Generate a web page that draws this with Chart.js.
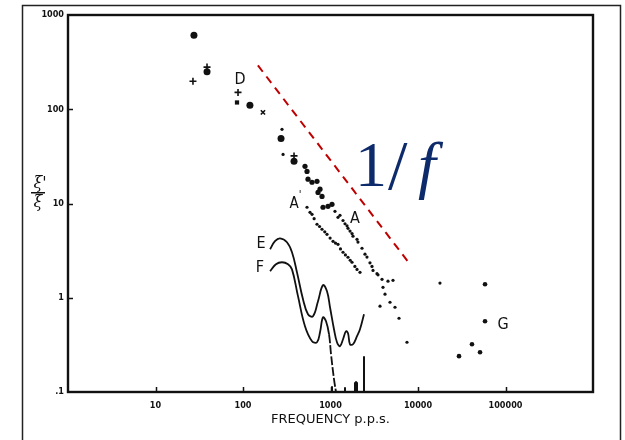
<!DOCTYPE html>
<html>
<head>
<meta charset="utf-8">
<script src="https://cdn.jsdelivr.net/npm/chart.js@4/dist/chart.umd.min.js"></script>
<style>
  html, body { margin: 0; padding: 0; background: #fff; }
</style>
</head>
<body>
<canvas id="noiseChart" width="625" height="440"></canvas>
<script>
// axis ticks
const xTicks = [10, 100, 1000, 10000, 100000];
const yTicks = [0.1, 1, 10, 100, 1000];
const yTickLabels = [".1", "1", "10", "100", "1000"];

// curve D (assorted markers)
const dCircleX = [27.5, 38.8, 120, 272, 383];
const dCircleY = [610, 250, 110, 49, 28];
const dPlusX = [26.8, 38.8, 87.7, 383];
const dPlusY = [198, 280, 151, 32];
const dSquareX = [85.4];
const dSquareY = [118];
const dCrossX = [169];
const dCrossY = [92.7];

// dense start of the A bands
const clusterX = [511, 539, 553, 615, 701, 720, 759, 800, 821, 936, 1040];
const clusterY = [24.8, 21.9, 18.1, 16.8, 17.2, 13.1, 14.2, 11.9, 9.12, 9.34, 9.81];

// curve A
const bandAX = [279, 287, 1125, 1218, 1284, 1390, 1465, 1545, 1585, 1671, 1762, 1807, 2009, 2061, 2291, 2478, 2612, 2826, 2979, 3061, 3398, 3491, 3880, 4540, 5180];
const bandAY = [61.2, 33.2, 8.27, 7.14, 7.5, 6.6, 6.1, 5.8, 5.45, 5.1, 4.8, 4.5, 4.17, 3.9, 3.35, 2.9, 2.7, 2.35, 2.15, 1.95, 1.8, 1.75, 1.57, 1.5, 1.53];

// curve A'
const bandA2X = [539, 583, 615, 650, 701, 750, 800, 860, 912, 990, 1069, 1140, 1218, 1300, 1390, 1480, 1585, 1680, 1762, 1900, 2009, 2173];
const bandA2Y = [9.12, 8.07, 7.68, 6.9, 6.02, 5.7, 5.33, 5.0, 4.71, 4.3, 3.97, 3.8, 3.69, 3.3, 3.04, 2.85, 2.69, 2.5, 2.38, 2.15, 2.0, 1.86];

// scattered high-frequency points
const tailX = [3981, 4198, 3680, 4786, 5458, 6067, 7482, 17830];
const tailY = [1.29, 1.09, 0.813, 0.896, 0.793, 0.606, 0.337, 1.43];

// curve G
const gX = [58340, 58340, 41400, 51150, 29420];
const gY = [1.39, 0.563, 0.321, 0.264, 0.24];

// curves E and F
const eX = [204, 232, 265, 318, 363, 414, 485, 553, 631, 720, 821, 912, 987, 1096, 1186, 1284, 1390, 1503, 1585, 1671, 1807, 2009, 2173, 2415];
const eY = [3.27, 3.98, 4.27, 3.88, 3.04, 1.86, 0.964, 0.668, 0.637, 0.918, 1.36, 1.17, 0.793, 0.463, 0.337, 0.306, 0.363, 0.441, 0.42, 0.321, 0.321, 0.391, 0.463, 0.668];
const fX = [204, 238, 279, 327, 363, 425, 511, 615, 701, 759, 821, 889, 962, 1014, 1096, 1156];
const fY = [1.91, 2.27, 2.38, 2.27, 2.0, 1.04, 0.499, 0.346, 0.337, 0.431, 0.621, 0.563, 0.41, 0.252, 0.137, 0.1];

// spikes on the frequency axis
const spikeX = [1040, 1465, 1905, 1960, 2009, 2415];
const spikeTop = [0.115, 0.112, 0.127, 0.13, 0.127, 0.24];

// 1/f guide line
const fitX = [148, 8100];
const fitY = [292, 2.27];

const pts = (xs, ys) => xs.map((x, i) => ({ x: x, y: ys[i] }));

const spikeData = [];
spikeX.forEach((x, i) => {
    spikeData.push({ x: x, y: 0.1 }, { x: x, y: spikeTop[i] }, { x: x, y: null });
});

const INK = "#111111";

const dotSet = (data, radius, style) => ({
    data: data,
    pointStyle: style || "circle",
    pointRadius: radius,
    pointBackgroundColor: INK,
    pointBorderColor: INK,
    pointBorderWidth: style === "cross" || style === "crossRot" ? 1.6 : 0,
    showLine: false,
});

const plotDeco = {
    id: "plotDeco",

    beforeDraw(chart) {
        const ctx = chart.ctx;
        ctx.save();
        ctx.fillStyle = "#ffffff";
        ctx.fillRect(0, 0, chart.width, chart.height);
        ctx.strokeStyle = "#222222";
        ctx.lineWidth = 1.5;
        ctx.beginPath();
        ctx.moveTo(22.5, 440);
        ctx.lineTo(22.5, 5.5);
        ctx.lineTo(620.5, 5.5);
        ctx.lineTo(620.5, 440);
        ctx.stroke();
        ctx.restore();
    },

    afterDraw(chart) {
        const ctx = chart.ctx;
        const area = chart.chartArea;
        const xs = chart.scales.x;
        const ys = chart.scales.y;

        ctx.save();

        // plot frame
        ctx.strokeStyle = INK;
        ctx.lineWidth = 2.4;
        ctx.strokeRect(area.left, area.top, area.right - area.left, area.bottom - area.top);

        // inward ticks
        ctx.lineWidth = 1.5;
        ctx.beginPath();
        xTicks.forEach((v) => {
            const px = Math.round(xs.getPixelForValue(v)) + 0.5;
            ctx.moveTo(px, area.bottom);
            ctx.lineTo(px, area.bottom - 5);
        });
        yTicks.slice(1, 4).forEach((v) => {
            const py = Math.round(ys.getPixelForValue(v)) + 0.5;
            ctx.moveTo(area.left, py);
            ctx.lineTo(area.left + 5, py);
        });
        ctx.stroke();

        // y axis label: xi' over xi
        ctx.fillStyle = INK;
        ctx.textAlign = "center";
        ctx.textBaseline = "middle";
        ctx.font = "italic 16px 'DejaVu Serif', serif";
        ctx.fillText("ξ'", 40, 184);
        ctx.fillText("ξ", 38, 203);
        ctx.fillRect(31, 192, 14, 1.5);

        // curve labels
        ctx.font = "16px 'DejaVu Sans Condensed', 'DejaVu Sans', sans-serif";
        ctx.fillText("D", 240, 80);
        ctx.fillText("A", 355, 219);
        ctx.fillText("E", 261, 244);
        ctx.fillText("F", 260, 268);
        ctx.fillText("G", 503, 325);
        ctx.font = "15px 'DejaVu Sans Condensed', 'DejaVu Sans', sans-serif";
        ctx.fillText("A", 294, 204);
        ctx.font = "10px 'DejaVu Sans', sans-serif";
        ctx.fillText("'", 300, 195);

        // 1/f annotation
        ctx.fillStyle = "#0d2a6b";
        ctx.textAlign = "left";
        ctx.textBaseline = "alphabetic";
        ctx.font = "64px 'Liberation Serif', 'DejaVu Serif', serif";
        ctx.fillText("1", 355, 186);
        ctx.font = "70px 'Liberation Serif', 'DejaVu Serif', serif";
        ctx.fillText("/", 388, 189);
        ctx.font = "italic 64px 'Liberation Serif', 'DejaVu Serif', serif";
        ctx.fillText("f", 418, 186);

        ctx.restore();
    },
};

new Chart(document.getElementById("noiseChart"), {
    type: "scatter",

    data: {
        datasets: [
            {
                data: pts(fitX, fitY),
                showLine: true,
                borderColor: "#c00000",
                borderWidth: 2,
                borderDash: [8, 6],
                pointRadius: 0,
            },
            {
                data: pts(eX, eY),
                showLine: true,
                borderColor: INK,
                borderWidth: 1.8,
                tension: 0.4,
                pointRadius: 0,
            },
            {
                data: pts(fX, fY),
                showLine: true,
                borderColor: INK,
                borderWidth: 1.8,
                tension: 0.4,
                pointRadius: 0,
                segment: {
                    borderDash: (c) => (c.p0DataIndex >= 12 ? [9, 2] : undefined),
                },
            },
            {
                data: spikeData,
                showLine: true,
                spanGaps: false,
                borderColor: INK,
                borderWidth: 2,
                pointRadius: 0,
            },
            dotSet(pts(dCircleX, dCircleY), 3.5),
            dotSet(pts(dPlusX, dPlusY), 3.5, "cross"),
            dotSet(pts(dSquareX, dSquareY), 3, "rect"),
            dotSet(pts(dCrossX, dCrossY), 3, "crossRot"),
            dotSet(pts(clusterX, clusterY), 2.6),
            dotSet(pts(bandAX, bandAY), 1.6),
            dotSet(pts(bandA2X, bandA2Y), 1.6),
            dotSet(pts(tailX, tailY), 1.6),
            dotSet(pts(gX, gY), 2.3),
        ],
    },

    options: {
        responsive: false,
        animation: false,
        devicePixelRatio: 1,

        layout: {
            padding: { top: 15, right: 32, left: 0, bottom: 0 },
        },

        plugins: {
            legend: { display: false },
            tooltip: { enabled: false },
        },

        scales: {
            x: {
                type: "logarithmic",
                min: 1,
                max: 1000000,
                grid: { display: false, drawTicks: false },
                border: { display: false },
                afterBuildTicks: (s) => {
                    s.ticks = xTicks.map((v) => ({ value: v }));
                },
                afterFit: (s) => {
                    s.height = 48;
                },
                ticks: {
                    autoSkip: false,
                    maxRotation: 0,
                    padding: 8,
                    color: INK,
                    font: { family: "'DejaVu Sans Condensed', 'DejaVu Sans', sans-serif", size: 9, weight: "bold" },
                    callback: (v) => String(v),
                },
                title: {
                    display: true,
                    text: "FREQUENCY p.p.s.",
                    color: INK,
                    padding: 13,
                    font: { family: "'DejaVu Sans', sans-serif", size: 13 },
                },
            },

            y: {
                type: "logarithmic",
                min: 0.1,
                max: 1000,
                grid: { display: false, drawTicks: false },
                border: { display: false },
                afterBuildTicks: (s) => {
                    s.ticks = yTicks.map((v) => ({ value: v }));
                },
                afterFit: (s) => {
                    s.width = 68;
                },
                ticks: {
                    autoSkip: false,
                    padding: 4,
                    color: INK,
                    font: { family: "'DejaVu Sans Condensed', 'DejaVu Sans', sans-serif", size: 9, weight: "bold" },
                    callback: (v) => yTickLabels[yTicks.indexOf(v)],
                },
            },
        },
    },

    plugins: [plotDeco],
});
</script>
</body>
</html>
